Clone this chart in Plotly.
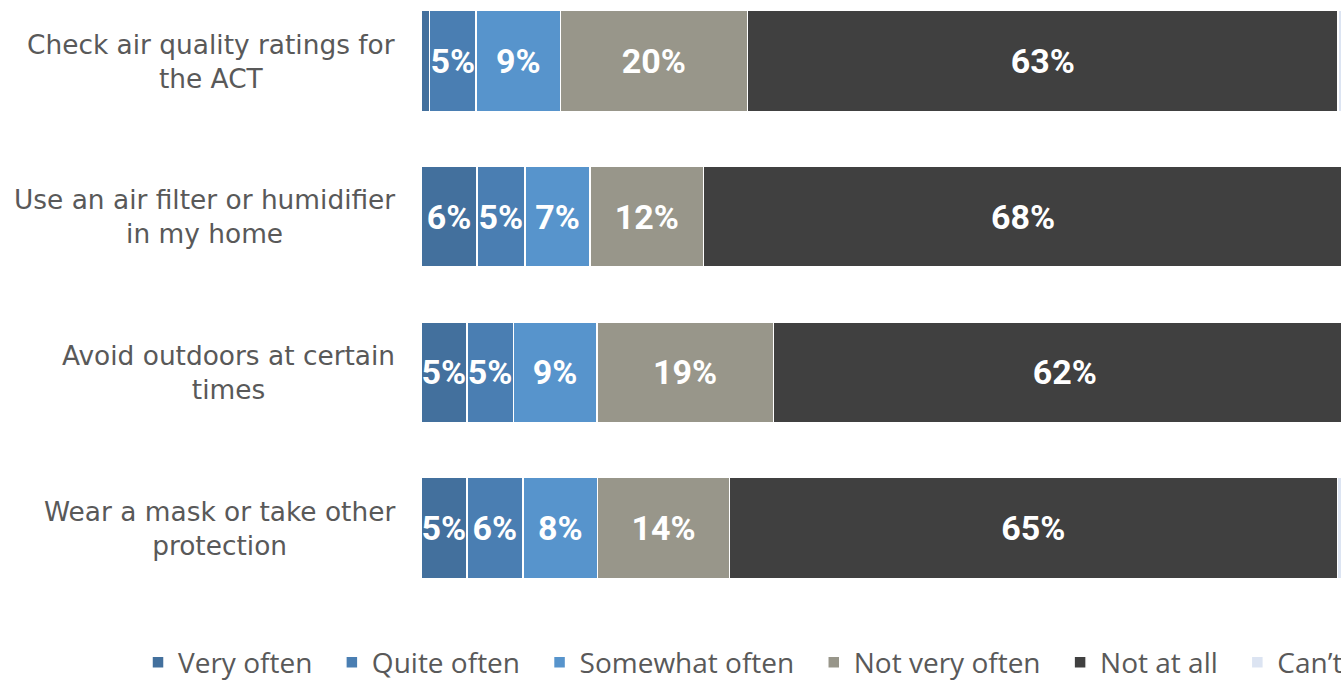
import plotly.graph_objects as go

categories = [
    "Check air quality ratings for<br>the ACT",
    "Use an air filter or humidifier<br>in my home",
    "Avoid outdoors at certain<br>times",
    "Wear a mask or take other<br>protection",
]
series_names = ["Very often", "Quite often", "Somewhat often", "Not very often", "Not at all", "Can\u2019t say"]
very_often = [0.9, 6.0, 4.9, 4.9]
quite_often = [5.0, 5.1, 5.0, 6.0]
somewhat_often = [9.0, 7.0, 8.9, 8.0]
not_very_often = [20.0, 12.1, 18.9, 14.1]
not_at_all = [63.2, 68.4, 62.3, 65.0]
cant_say = [1.9, 1.4, 0.0, 2.0]
colors = ["#43709D", "#4A7EB2", "#5794CC", "#98968A", "#404040", "#DCE4F2"]

series_values = [very_often, quite_often, somewhat_often, not_very_often, not_at_all, cant_say]
ids = list(range(len(categories)))

fig = go.Figure()
for i, (name, vals, col) in enumerate(zip(series_names, series_values, colors)):
    if name.startswith("Can"):
        txt = ["" for _ in vals]
    else:
        txt = [f"{round(v)}%" if v >= 2 else "" for v in vals]
    fig.add_trace(go.Bar(
        y=ids, x=vals, name=name + "\u00a0\u00a0", orientation="h",
        marker=dict(color=col, line=dict(color="white", width=1.5)),
        text=txt, textposition="inside", insidetextanchor="middle", textangle=0,
        textfont=dict(family="Roboto", size=34, color="white", weight="bold"),
        hoverinfo="skip",
    ))

for i, c in enumerate(categories):
    fig.add_annotation(
        x=-0.026, xref="paper", y=i, yref="y", text=c, showarrow=False,
        xanchor="right", yanchor="middle", align="center",
        font=dict(family="DejaVu Sans", size=26.4, color="#595959"),
    )

fig.update_layout(
    width=1341, height=680,
    barmode="stack", bargap=0.351,
    plot_bgcolor="white", paper_bgcolor="white",
    margin=dict(l=421, r=0, t=0, b=70, autoexpand=False),
    uniformtext=dict(minsize=34, mode="show"),
    showlegend=True,
    legend=dict(
        orientation="h", x=-0.3076, xanchor="left", y=-0.045, yanchor="top",
        font=dict(family="Open Sans", size=28, color="#595959"),
        traceorder="normal",
    ),
    xaxis=dict(range=[0, 98.4], visible=False, showgrid=False, zeroline=False),
    yaxis=dict(range=[3.526, -0.392], showticklabels=False, showgrid=False,
               zeroline=False, showline=False, ticks=""),
)

fig.write_html(
    "out.html",
    config={"displayModeBar": False},
    post_script="document.body.style.margin='0';document.body.style.overflow='hidden';",
)
